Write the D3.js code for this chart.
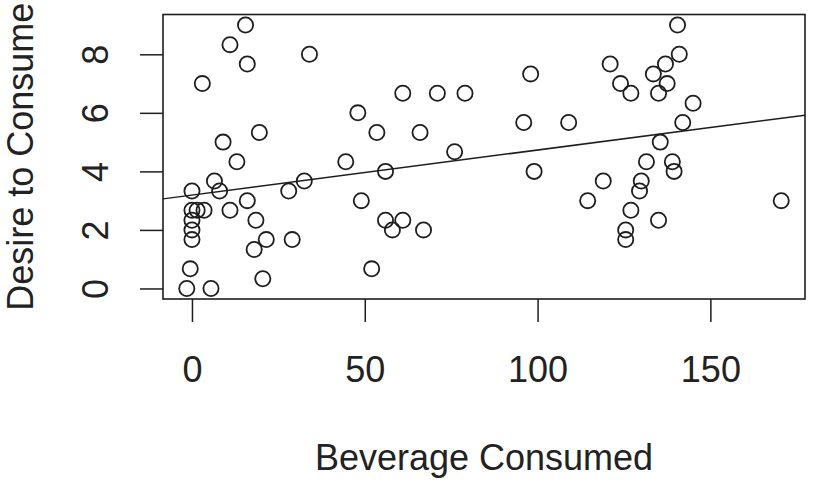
<!DOCTYPE html>
<html>
<head>
<meta charset="utf-8">
<script src="https://cdn.jsdelivr.net/npm/d3@7"></script>
<style>
  body { margin: 0; background: #fff; }
  svg text { font-family: "Liberation Sans", Arial, Helvetica, sans-serif; fill: #222; }
</style>
</head>
<body>
<div id="chart"></div>
<script>
// Data
const beverage = [
  15.5, 11, 16, 3, 34, 48, 19.5, 9, 13, 44.5, 6.5, 8, 0, 32.5, 28, 49, 16, 11,
  3.5, 0, 1.5, 18.5, 0, 0, 0, 21.5, 29, 18, -0.5, 20.5, -1.5, 5.5, 52,
  98, 61, 71, 79, 53.5, 66, 96, 109, 76, 56, 99, 56, 61, 58, 67,
  140.5, 141, 121, 137, 133.5, 124, 137.5, 127, 135, 145, 142, 135.5,
  131.5, 139, 139.5, 119, 130, 114.5, 129.5, 127, 135, 125.5, 125.5, 170.5
];
const desire = [
  9, 8.33, 7.67, 7, 8, 6, 5.33, 5, 4.33, 4.33, 3.67, 3.33, 3.33, 3.67, 3.33, 3, 3, 2.67,
  2.67, 2.67, 2.67, 2.33, 2.33, 2, 1.67, 1.67, 1.67, 1.33, 0.67, 0.33, 0, 0, 0.67,
  7.33, 6.67, 6.67, 6.67, 5.33, 5.33, 5.67, 5.67, 4.67, 4, 4, 2.33, 2.33, 2, 2,
  9, 8, 7.67, 7.67, 7.33, 7, 7, 6.67, 6.67, 6.33, 5.67, 5,
  4.33, 4.33, 4, 3.67, 3.67, 3, 3.33, 2.67, 2.33, 2, 1.67, 3
];
const xTicks = [0, 50, 100, 150];
const yTicks = [0, 2, 4, 6, 8];
// fitted line (abline of lm)
const fitIntercept = 3.19;
const fitSlope = 0.0154;

const W = 813, H = 486;
const plot = {left: 163, right: 805, top: 14.5, bottom: 299};

const svg = d3.select("#chart")
    .append("svg")
    .attr("width", W)
    .attr("height", H);

// R style: pad data range by 4% each side
function padded(vals) {
    const [a, b] = d3.extent(vals);
    const p = (b - a) * 0.04;
    return [a - p, b + p];
}

const x = d3.scaleLinear().domain(padded(beverage)).range([plot.left, plot.right]);
const y = d3.scaleLinear().domain(padded(desire)).range([plot.bottom, plot.top]);

const ink = "#1e1e1e";

// x axis
const xAxis = svg.append("g")
    .attr("transform", `translate(0,${plot.bottom})`)
    .call(d3.axisBottom(x).tickValues(xTicks).tickSize(23).tickSizeOuter(0).tickPadding(34));
xAxis.select(".domain").remove();
xAxis.selectAll("line").attr("stroke", ink).attr("stroke-width", 1.5);
xAxis.selectAll("text").attr("font-size", 36).attr("fill", ink);

// y axis, labels parallel to axis
const yAxis = svg.append("g")
    .attr("transform", `translate(${plot.left},0)`)
    .call(d3.axisLeft(y).tickValues(yTicks).tickSize(23).tickSizeOuter(0));
yAxis.select(".domain").remove();
yAxis.selectAll("line").attr("stroke", ink).attr("stroke-width", 1.5);
yAxis.selectAll("text")
    .attr("x", null)
    .attr("dy", null)
    .attr("text-anchor", "middle")
    .attr("font-size", 36)
    .attr("fill", ink)
    .attr("transform", "translate(-55,0) rotate(-90)");

// box
svg.append("rect")
    .attr("x", plot.left)
    .attr("y", plot.top)
    .attr("width", plot.right - plot.left)
    .attr("height", plot.bottom - plot.top)
    .attr("fill", "none")
    .attr("stroke", ink)
    .attr("stroke-width", 1.6);

// points
svg.append("g")
    .selectAll("circle")
    .data(beverage.map((b, i) => [b, desire[i]]))
    .enter()
    .append("circle")
    .attr("cx", d => x(d[0]))
    .attr("cy", d => y(d[1]))
    .attr("r", 7.6)
    .attr("fill", "none")
    .attr("stroke", ink)
    .attr("stroke-width", 1.8);

// regression line across the plot region
const [x0, x1] = x.domain();
svg.append("line")
    .attr("x1", x(x0))
    .attr("y1", y(fitIntercept + fitSlope * x0))
    .attr("x2", x(x1))
    .attr("y2", y(fitIntercept + fitSlope * x1))
    .attr("stroke", ink)
    .attr("stroke-width", 1.5);

// axis titles
svg.append("text")
    .attr("x", (plot.left + plot.right) / 2)
    .attr("y", 470)
    .attr("text-anchor", "middle")
    .attr("font-size", 36)
    .attr("fill", ink)
    .text("Beverage Consumed");

svg.append("text")
    .attr("transform", `translate(33,${(plot.top + plot.bottom) / 2}) rotate(-90)`)
    .attr("text-anchor", "middle")
    .attr("font-size", 36)
    .attr("fill", ink)
    .text("Desire to Consume");
</script>
</body>
</html>
